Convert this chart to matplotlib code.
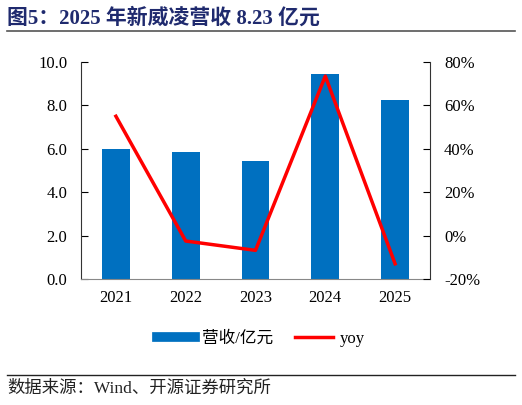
import matplotlib.pyplot as plt
from matplotlib.lines import Line2D
from matplotlib.ticker import FuncFormatter

plt.rcParams['font.family'] = ['Liberation Serif', 'Noto Sans CJK SC']

years = ['2021', '2022', '2023', '2024', '2025']
revenue = [6.0, 5.85, 5.45, 9.46, 8.23]
yoy = [55.0, -2.5, -6.8, 73.5, -13.0]

fig = plt.figure(figsize=(5.22, 4.05), dpi=100)
ax = fig.add_axes([81 / 522, 1 - 279 / 405, (430 - 81) / 522, (279 - 62) / 405])

x = range(len(years))
ax.bar(x, revenue, width=0.4, color='#0070C0', zorder=2)
ax.set_xlim(-0.5, len(years) - 0.5)
ax.set_ylim(0, 10)
ax.set_yticks([0, 2, 4, 6, 8, 10])
ax.yaxis.set_major_formatter(FuncFormatter(lambda v, p: f'{v:.1f}'))
ax.set_xticks(list(x))
ax.set_xticklabels(years)
ax.tick_params(axis='y', direction='in', length=5, labelsize=12, pad=10)
ax.tick_params(axis='x', length=0, labelsize=12, pad=8)
for s in ['top', 'right']:
    ax.spines[s].set_visible(False)
ax.spines['left'].set_color('#333333')
ax.spines['bottom'].set_color('#888888')

ax2 = ax.twinx()
ax2.plot(x, yoy, color='#FF0000', lw=2.5, zorder=3)
ax2.set_ylim(-20, 80)
ax2.set_yticks([-20, 0, 20, 40, 60, 80])
ax2.yaxis.set_major_formatter(FuncFormatter(lambda v, p: f'{v:.0f}%'))
ax2.tick_params(axis='y', direction='in', length=5, labelsize=12, pad=10)
for s in ['top', 'left', 'bottom']:
    ax2.spines[s].set_visible(False)
ax2.spines['right'].set_color('#333333')

handles = [Line2D([], [], color='#0070C0', lw=7),
           Line2D([], [], color='#FF0000', lw=2.5)]
fig.legend(handles, ['营收/亿元', 'yoy'], loc='center', bbox_to_anchor=(0.5, 1 - 339 / 405),
           ncol=2, frameon=False, fontsize=12, handlelength=2.3, columnspacing=1.3,
           handletextpad=0.4)

fig.text(7 / 522, 1 - 18 / 405, '图5：2025 年新威凌营收 8.23 亿元', fontsize=15, fontweight='bold',
         color='#1F2A6E', va='center', ha='left')
fig.add_artist(Line2D([7 / 522, 515 / 522], [1 - 31 / 405, 1 - 31 / 405], color='#555555', lw=1.2))
fig.add_artist(Line2D([7 / 522, 515 / 522], [1 - 375 / 405, 1 - 375 / 405], color='#222222', lw=1))
fig.text(7 / 522, 1 - 389 / 405, '数据来源：Wind、开源证券研究所', fontsize=12.5, color='#222222',
         va='center', ha='left')

fig.savefig('out.png', dpi=100)
